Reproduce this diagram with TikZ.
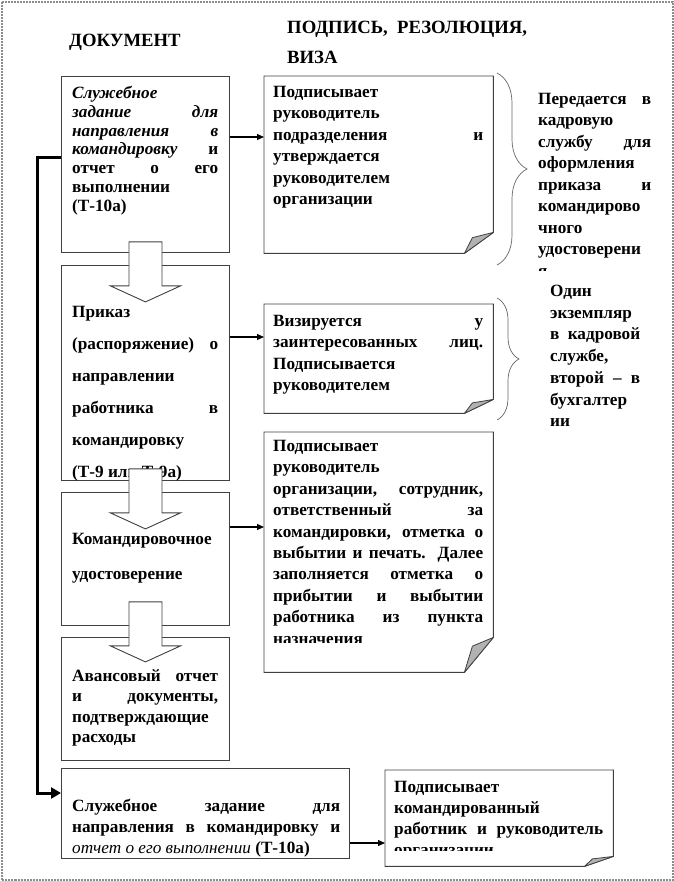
\documentclass[tikz,border=0pt]{standalone}
\usepackage{fontspec}
\setmainfont{Liberation Serif}
\usetikzlibrary{arrows.meta,decorations.pathreplacing}

\hbadness=10000
\hyphenpenalty=10000
\tolerance=10000

\begin{document}
\begin{tikzpicture}[x=1pt, y=-1pt,
    box/.style={draw=black!75, line width=0.9pt, fill=white, anchor=north west, inner sep=0pt},
    note/.style={anchor=north west, inner sep=0pt},
    txt/.style={anchor=north west, inner sep=0pt, text width=#1, align=justify},
    arrow/.style={-{Triangle[length=7pt,width=6pt]}, line width=1.2pt},
    bigarrow/.style={-{Triangle[length=10pt,width=11pt]}, line width=3pt},
    blockarrow/.style={draw=black!75, line width=0.9pt, fill=white, line join=miter},
    fold/.style={draw=black!75, line width=0.8pt, fill=black!30, line join=round},
    curly/.style={draw=black!60, line width=0.7pt, decorate},
    heading/.style={font={\bfseries\fontsize{18.7}{30}\selectfont}, inner sep=0pt, align=left}
]
\useasboundingbox (0,0) rectangle (674,881);
\draw[black!45, line width=2pt, dash pattern=on 2pt off 1pt] (1.5,1.5) rectangle (672.5,879.5);

\node[heading, anchor=west] (hdoc) at (69,42) {ДОКУМЕНТ};
\node[heading, anchor=north west] (hsig) at (287,21) {ПОДПИСЬ,\ \ РЕЗОЛЮЦИЯ,\\ВИЗА};

% documents
\node[box, minimum width=168pt, minimum height=176pt] (d1) at (61,76) {};
\node[box, minimum width=168pt, minimum height=215pt] (d2) at (61,265) {};
\node[box, minimum width=168pt, minimum height=133pt] (d3) at (61,492) {};
\node[box, minimum width=168pt, minimum height=123pt] (d4) at (61,637) {};
\node[box, minimum width=288pt, minimum height=90pt] (d5) at (61,768) {};

\node[txt=146pt, font={\bfseries\fontsize{17.2}{18.8}\selectfont}] (t1) at ([shift={(11,10)}]d1.north west)
  {{\itshape Служебное\linebreak задание для\linebreak направления в\linebreak командировку} и\linebreak отчет о его\linebreak выполнении\linebreak (Т-10а)};
\begin{scope}
  \clip (d2.north west) rectangle (d2.south east);
  \node[txt=146pt, font={\bfseries\fontsize{17.2}{32}\selectfont}] (t2) at ([shift={(11,41)}]d2.north west)
    {Приказ\linebreak (распоряжение) о\linebreak направлении\linebreak работника в\linebreak командировку\linebreak (Т-9 или Т-9а)};
\end{scope}
\node[txt=146pt, font={\bfseries\fontsize{17.2}{35}\selectfont}] (t3) at ([shift={(11,41)}]d3.north west)
  {Командировочное\linebreak удостоверение};
\node[txt=146pt, font={\bfseries\fontsize{17.2}{20.5}\selectfont}] (t4) at ([shift={(11,32)}]d4.north west)
  {Авансовый отчет\linebreak и документы,\linebreak подтверждающие\linebreak расходы};
\node[txt=268pt, font={\bfseries\fontsize{17.2}{21}\selectfont}] (t5) at ([shift={(11,31)}]d5.north west)
  {Служебное задание для\linebreak направления в командировку и\linebreak {\mdseries\itshape отчет о его выполнении} (Т-10а)};

% signatures
\node[note, minimum width=229pt, minimum height=177pt] (r1) at (264,76) {};
\node[note, minimum width=229pt, minimum height=109pt] (r2) at (264,304) {};
\node[note, minimum width=229pt, minimum height=240pt] (r3) at (264,432) {};
\node[note, minimum width=228pt, minimum height=96pt] (r4) at (385,770) {};
\foreach \n/\h in {r1/21, r2/14, r3/35, r4/10} {
  \draw[box] (\n.north west) -- (\n.north east) -- ([yshift=\h pt]\n.south east)
    -- ([xshift=-29pt]\n.south east) -- (\n.south west) -- cycle;
  \draw[fold] ([xshift=-29pt]\n.south east) -- ++(8,{-0.75*\h}) -- ([yshift=\h pt]\n.south east) -- cycle;
}

\node[txt=210pt, font={\bfseries\fontsize{17.2}{21.4}\selectfont}] (n1) at ([shift={(9,10)}]r1.north west)
  {Подписывает\linebreak руководитель\linebreak подразделения и\linebreak утверждается\linebreak руководителем\linebreak организации};
\node[txt=210pt, font={\bfseries\fontsize{17.2}{21.4}\selectfont}] (n2) at ([shift={(9,11)}]r2.north west)
  {Визируется у\linebreak заинтересованных лиц.\linebreak Подписывается\linebreak руководителем};
\begin{scope}
  \clip (r3.north west) rectangle ([yshift=30pt]r3.south east);
  \node[txt=210pt, font={\bfseries\fontsize{17.2}{21.4}\selectfont}] (n3) at ([shift={(9,8)}]r3.north west)
    {Подписывает\linebreak руководитель\linebreak организации, сотрудник,\linebreak ответственный за\linebreak командировки, отметка о\linebreak выбытии и печать. Далее\linebreak заполняется отметка о\linebreak прибытии и выбытии\linebreak работника из пункта\linebreak назначения};
\end{scope}
\begin{scope}
  \clip (r4.north west) rectangle ([yshift=16pt]r4.south east);
  \node[txt=209pt, font={\bfseries\fontsize{17.2}{21}\selectfont}] (n4) at ([shift={(9,11)}]r4.north west)
    {Подписывает\linebreak командированный\linebreak работник и руководитель\linebreak организации};
\end{scope}

% notes on the right
\draw[curly, decoration={brace, amplitude=30pt}] (497,73) -- (497,265);
\draw[curly, decoration={brace, amplitude=22pt}] (497,298) -- (497,420);
\begin{scope}
  \clip (530,80) rectangle (660,270);
  \node[txt=113pt, font={\bfseries\fontsize{17.2}{21.5}\selectfont}] (s1) at (538,93)
    {Передается в\linebreak кадровую\linebreak службу для\linebreak оформления\linebreak приказа и\linebreak командирово\linebreak чного\linebreak удостоверени\linebreak я};
\end{scope}
\node[txt=90pt, font={\bfseries\fontsize{17.2}{21.7}\selectfont}] (s2) at (550,285)
  {Один\linebreak экземпляр\linebreak в кадровой\linebreak службе,\linebreak второй – в\linebreak бухгалтер\linebreak ии};

% flow
\foreach \a/\s in {d1/11, d2/12, d3/24}
  \draw[blockarrow] ([yshift=\s pt]\a.south) -- ++(16.5,0) -- ++(0,44) -- ++(18.5,0) -- ++(-35,16)
    -- ++(-35,-16) -- ++(18.5,0) -- ++(0,-44) -- cycle;

\draw[arrow] ([yshift=-61pt]d1.north east) -- ([yshift=-61pt]r1.north west);
\draw[arrow] ([yshift=-72pt]d2.north east) -- ([yshift=-33pt]r2.north west);
\draw[arrow] ([yshift=-35pt]d3.north east) -- ([yshift=-95pt]r3.north west);
\draw[arrow] ([yshift=-75pt]d5.north east) -- ([yshift=-73pt]r4.north west);
\draw[bigarrow] ([yshift=-81pt]d1.north west) -- ++(-24,0) |- ([yshift=-25pt]d5.north west);
\end{tikzpicture}
\end{document}
